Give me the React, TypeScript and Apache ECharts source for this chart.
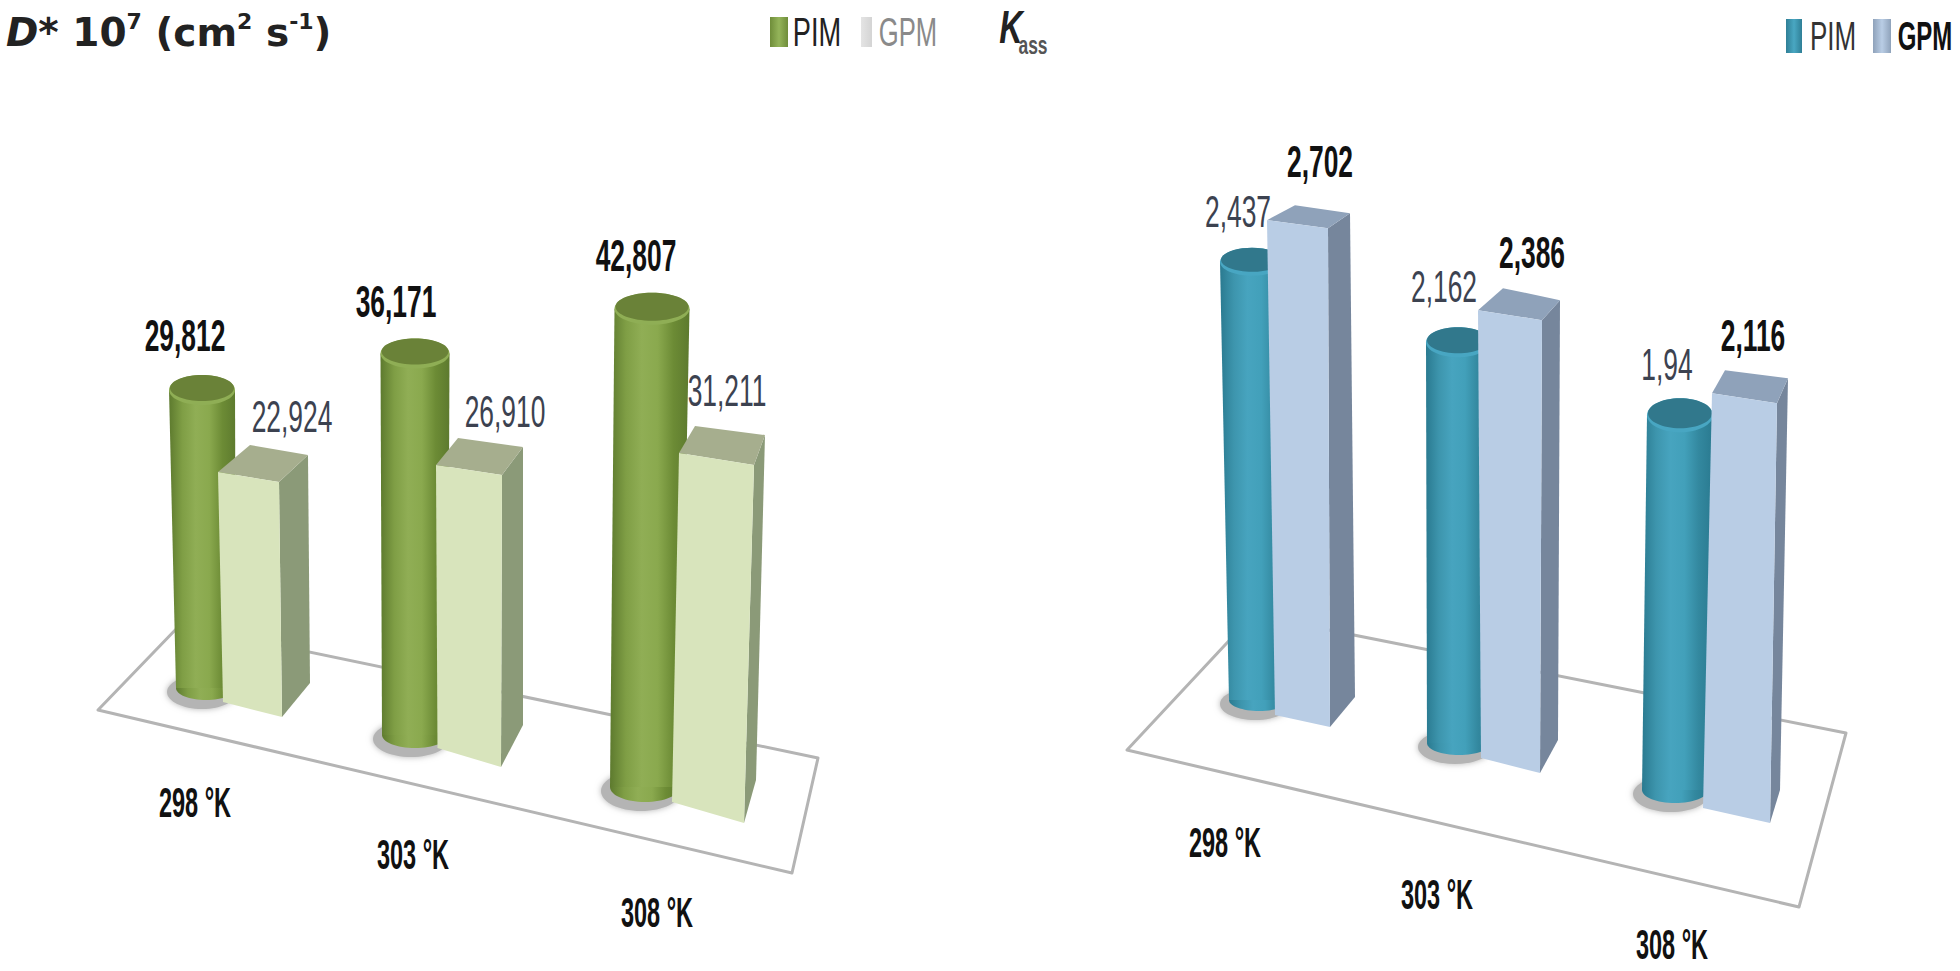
import React, { useEffect, useRef } from "react";
import * as echarts from "echarts";

const categories = ["298 °K", "303 °K", "308 °K"];
const seriesNames = ["PIM", "GPM"];
const diffusionPIM = [29.812, 36.171, 42.807];
const diffusionGPM = [22.924, 26.91, 31.211];
const kassPIM = [2.437, 2.162, 1.94];
const kassGPM = [2.702, 2.386, 2.116];

const NARROW = "'Liberation Sans'";

const grad = (stops: string[]) => ({
  type: "linear", x: 0, y: 0, x2: 1, y2: 0,
  colorStops: stops.map((color, i) => ({ offset: i / (stops.length - 1), color })),
});

const greenStyle = {
  body: grad(["#5d7a2e", "#7f9e45", "#90ae55", "#8aa94e", "#6c8b35", "#5d7a2e"]),
  rim: "#8fae55", cap: "#6a8238", front: "#d8e4bc", side: "#8b9a78", top: "#a6ae8e",
};
const blueStyle = {
  body: grad(["#2a7a90", "#3d95ad", "#47a4bf", "#42a0ba", "#33889f", "#2a7a90"]),
  rim: "#48a6c2", cap: "#31788c", front: "#b9cde5", side: "#76869c", top: "#8fa2ba",
};

// Perspective layout: offsets from each category's axis position, not data.
const leftCyl = [
  { cx: -4, cy: -12, lean: -4, rxB: 30, rxT: 33, ryB: 12, ryT: 15, s: 1.0, lx: -17, ly: -54 },
  { cx: -15, cy: 35, lean: 0, rxB: 33, rxT: 34.5, ryB: 13, ryT: 15, s: 1.055, lx: -19, ly: -52 },
  { cx: -5, cy: 87, lean: 7, rxB: 35, rxT: 37.5, ryB: 15, ryT: 16, s: 1.117, lx: -16, ly: -53 },
];
const leftBox = [
  { lX: 13, lY: 2, rX: 72, rY: 17, leanL: -5, leanR: -3, dx: 28, dy: -34, blx: 32, bly: -27, brx: 29, bry: -27, s: 1.025, tl: 5, lx: 13, ly: -65 },
  { lX: 7.5, lY: 48, rX: 71, rY: 67, leanL: -1.5, leanR: 1, dx: 22, dy: -42, blx: 22, bly: -27, brx: 21, bry: -28, s: 1.085, tl: 9, lx: 3, ly: -63 },
  { lX: 22, lY: 102, rX: 94, rY: 123, leanL: 7, leanR: 10, dx: 12, dy: -43, blx: 16, bly: -27, brx: 11, bry: -30, s: 1.147, tl: 9, lx: -27, ly: -74 },
];
const rightCyl = [
  { cx: -1, cy: 0, lean: -7, rxB: 30, rxT: 32, ryB: 11, ryT: 14, s: 0.899, lx: -14, ly: -50 },
  { cx: -21, cy: 43, lean: -1, rxB: 32, rxT: 32, ryB: 12, ryT: 15, s: 0.927, lx: -14, ly: -55 },
  { cx: -25, cy: 90, lean: 5, rxB: 33, rxT: 33, ryB: 13, ryT: 17, s: 0.966, lx: -13, ly: -50 },
];
const rightBox = [
  { lX: 15, lY: 15, rX: 70, rY: 27, leanL: -8, leanR: -2, dx: 25, dy: -30, blx: 28, bly: -15, brx: 22, bry: -15, s: 0.923, tl: 4, lx: -8, ly: -66 },
  { lX: 1, lY: 58, rX: 60, rY: 73, leanL: -3, leanR: 2, dx: 18, dy: -33, blx: 25, bly: -22, brx: 18, bry: -20, s: 0.949, tl: 5, lx: -10, ly: -67 },
  { lX: 3, lY: 108, rX: 70, rY: 123, leanL: 9, leanR: 7, dx: 10, dy: -33, blx: 13, bly: -23, brx: 11, bry: -25, s: 0.992, tl: 5, lx: -24, ly: -67 },
];
const leftCatOffsets = [[-15, 102], [-17, 154], [7, 212]];
const rightCatOffsets = [[-35, 142], [-43, 194], [-28, 244]];

const narrowText = (x: number, y: number, text: string, bold: boolean, color: string, scaleX = 0.6, fontSize = 44, italic = false) => ({
  type: "text", x, y, scaleX, silent: true,
  style: {
    text, fontFamily: NARROW, fontSize, fontWeight: bold ? "bold" : "normal", fontStyle: italic ? "italic" : "normal",
    fill: color, align: "center", verticalAlign: "middle",
  },
});

const label = (v: number, decimals: number) =>
  (decimals > 0 ? v.toFixed(decimals) : String(v)).replace(".", ",");

const cylinderSeries = (name: string, axis: number, values: number[], geo: any[], look: any, bold: boolean, decimals: number) => ({
  type: "custom", name, xAxisIndex: axis, yAxisIndex: axis, z: 3, silent: true,
  encode: { x: 0, y: 1 },
  data: values.map((v, i) => [i, v]),
  renderItem: (_p: any, api: any) => {
    const i = api.value(0);
    const g = geo[i];
    const v = api.value(1);
    const base = api.coord([i, 0]);
    const tip = api.coord([i, v]);
    const h = (base[1] - tip[1]) * g.s;
    const bx = base[0] + g.cx, by = base[1] + g.cy;
    const tx = bx + g.lean, ty = by - h;
    return {
      type: "group",
      children: [
        {
          type: "ellipse",
          shape: { cx: bx - 4, cy: by + 4, rx: g.rxB + 5, ry: g.ryB + 5 },
          style: { fill: "#b4b4b4", shadowBlur: 6, shadowColor: "#b4b4b4" },
        },
        { type: "ellipse", shape: { cx: bx, cy: by, rx: g.rxB, ry: g.ryB }, style: { fill: look.body } },
        {
          type: "polygon",
          shape: { points: [[tx - g.rxT, ty], [tx + g.rxT, ty], [bx + g.rxB, by], [bx - g.rxB, by]] },
          style: { fill: look.body },
        },
        { type: "ellipse", shape: { cx: tx, cy: ty, rx: g.rxT, ry: g.ryT }, style: { fill: look.rim } },
        { type: "ellipse", shape: { cx: tx, cy: ty - 2, rx: g.rxT - 1, ry: g.ryT - 2 }, style: { fill: look.cap } },
        narrowText(tx + g.lx, ty + g.ly, label(v, decimals), bold, bold ? "#111" : "#3c4250"),
      ],
    };
  },
});

const boxSeries = (name: string, axis: number, values: number[], geo: any[], look: any, bold: boolean, decimals: number) => ({
  type: "custom", name, xAxisIndex: axis, yAxisIndex: axis, z: 4, silent: true,
  encode: { x: 0, y: 1 },
  data: values.map((v, i) => [i, v]),
  renderItem: (_p: any, api: any) => {
    const i = api.value(0);
    const g = geo[i];
    const v = api.value(1);
    const base = api.coord([i, 0]);
    const tip = api.coord([i, v]);
    const h = (base[1] - tip[1]) * g.s;
    const bl = [base[0] + g.lX, base[1] + g.lY];
    const br = [base[0] + g.rX, base[1] + g.rY];
    const tl = [bl[0] + g.leanL, bl[1] - h + g.tl];
    const tr = [br[0] + g.leanR, br[1] - h];
    const tbl = [tl[0] + g.blx, tl[1] + g.bly];
    const tbr = [tr[0] + g.brx, tr[1] + g.bry];
    const bbr = [br[0] + g.dx, br[1] + g.dy];
    return {
      type: "group",
      children: [
        { type: "polygon", shape: { points: [tr, tbr, bbr, br] }, style: { fill: look.side } },
        { type: "polygon", shape: { points: [tl, tr, tbr, tbl] }, style: { fill: look.top } },
        { type: "polygon", shape: { points: [tl, tr, br, bl] }, style: { fill: look.front } },
        narrowText(tr[0] + g.lx, tr[1] + g.ly, label(v, decimals), bold, bold ? "#111" : "#3c4250"),
      ],
    };
  },
});

const categorySeries = (axis: number, offsets: number[][]) => ({
  type: "custom", xAxisIndex: axis, yAxisIndex: axis, z: 5, silent: true,
  encode: { x: 0, y: 1 },
  data: categories.map((_c, i) => [i, 0]),
  renderItem: (_p: any, api: any) => {
    const i = api.value(0);
    const base = api.coord([i, 0]);
    return narrowText(base[0] + offsets[i][0], base[1] + offsets[i][1], categories[i], true, "#111", 0.56, 42);
  },
});

const key = (x: number, y: number, w: number, h: number, stops: string[]) => ({
  type: "rect", silent: true, z: 1,
  shape: { x, y, width: w, height: h },
  style: { fill: grad(stops) },
});

export default function App() {
  const ref = useRef<HTMLDivElement>(null);
  useEffect(() => {
    const chart = echarts.init(ref.current!, undefined, { renderer: "svg" });
    chart.setOption({
      animation: false,
      backgroundColor: "#ffffff",
      title: [
        {
          left: 1, top: 5,
          text: "{i|D}{b|* 10}{s|7}{b| (cm}{s|2}{b| s}{s|-1}{b|)}",
          textStyle: {
            rich: {
              i: { fontFamily: "'DejaVu Sans'", fontStyle: "italic", fontWeight: "bold", fontSize: 39, color: "#222" },
              b: { fontFamily: "'DejaVu Sans'", fontWeight: "bold", fontSize: 39, color: "#222" },
              s: { fontFamily: "'DejaVu Sans'", fontWeight: "bold", fontSize: 22, color: "#222", verticalAlign: "top", lineHeight: 44 },
            },
          },
        },
      ],
      grid: [
        { left: 100, width: 660, top: 200, height: 500, containLabel: false },
        { left: 1150, width: 660, top: 100, height: 600, containLabel: false },
      ],
      xAxis: [
        { type: "category", gridIndex: 0, data: categories, show: false },
        { type: "category", gridIndex: 1, data: categories, show: false },
      ],
      yAxis: [
        { type: "value", gridIndex: 0, min: 0, max: 50, show: false },
        { type: "value", gridIndex: 1, min: 0, max: 3, show: false },
      ],
      graphic: [
        {
          type: "polygon", z: 0, silent: true,
          shape: { points: [[180, 625], [818, 758], [792, 873], [98, 710]] },
          style: { fill: "#ffffff", stroke: "#b4b4b4", lineWidth: 3, lineJoin: "round" },
        },
        {
          type: "polygon", z: 0, silent: true,
          shape: { points: [[1253, 615], [1846, 733], [1799, 907], [1127, 750]] },
          style: { fill: "#ffffff", stroke: "#b4b4b4", lineWidth: 3, lineJoin: "round" },
        },
        key(770, 17, 18, 30, ["#6f8d3a", "#94b45a", "#6f8d3a"]),
        narrowText(817, 32, seriesNames[0], false, "#222", 0.68, 40),
        key(861, 17, 11, 30, ["#e4e4e4", "#d4d4d4"]),
        narrowText(908, 32, seriesNames[1], false, "#8a8a8a", 0.64, 40),
        narrowText(1011, 27, "K", true, "#222", 0.69, 47, true),
        narrowText(1033, 45, "ass", true, "#555", 0.67, 26),
        key(1786, 19, 16, 34, ["#2f7f96", "#49a7c2", "#2f7f96"]),
        narrowText(1833, 36, seriesNames[0], false, "#333", 0.65, 40),
        key(1873, 19, 18, 34, ["#8fa2ba", "#b9cde5", "#8fa2ba"]),
        narrowText(1925, 36, seriesNames[1], true, "#111", 0.6, 40),
      ],
      series: [
        cylinderSeries(seriesNames[0], 0, diffusionPIM, leftCyl, greenStyle, true, 3),
        boxSeries(seriesNames[1], 0, diffusionGPM, leftBox, greenStyle, false, 3),
        categorySeries(0, leftCatOffsets),
        cylinderSeries(seriesNames[0], 1, kassPIM, rightCyl, blueStyle, false, 0),
        boxSeries(seriesNames[1], 1, kassGPM, rightBox, blueStyle, true, 0),
        categorySeries(1, rightCatOffsets),
      ],
    });
    return () => chart.dispose();
  }, []);
  return <div ref={ref} style={{ position: "absolute", left: 0, top: 0, width: 1960, height: 971 }} />;
}
